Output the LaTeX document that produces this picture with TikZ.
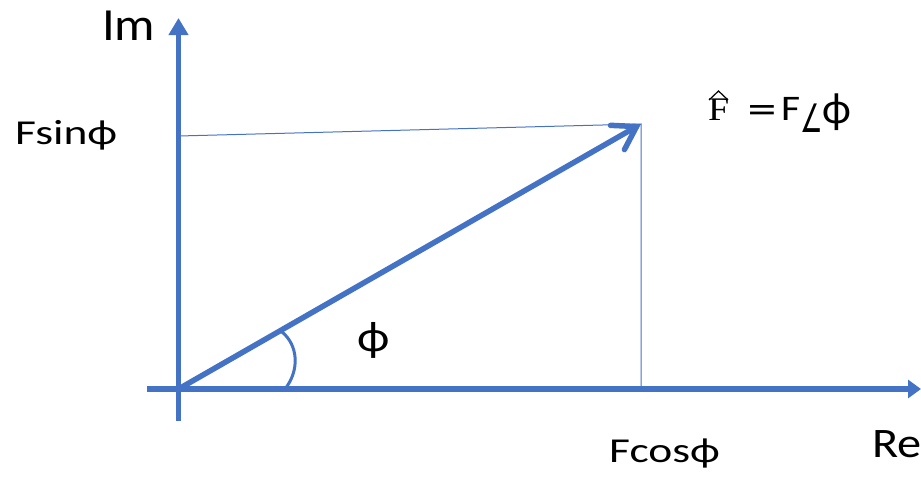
\documentclass[tikz,border=0pt]{standalone}
\usepackage{fontspec}
\setmainfont{Carlito}
\newfontfamily\dejavu{DejaVu Sans}
\newfontfamily\serifF{Liberation Serif}
\usetikzlibrary{arrows.meta}
\definecolor{axisblue}{HTML}{4472C4}
\newcommand\wtext[2][1.15]{\scalebox{#1}[1]{#2}}
\begin{document}
\begin{tikzpicture}[x=1pt,y=-1pt,
  axis/.style={draw=axisblue,line width=5.5pt},
  thinline/.style={draw=axisblue,line width=1pt},
  lbl/.style={anchor=base west,inner sep=0pt,text=black}]
\useasboundingbox (0,0) rectangle (921,477);
\coordinate (O) at (178.5,389);
\coordinate (ybot) at (178.5,421);
\coordinate (ytop) at (178.5,18);
\coordinate (xl) at (147,389);
\coordinate (xr) at (921,389);
\coordinate (P) at (641,124);
\coordinate (H) at (178.5,136);
\coordinate (V) at (641,389);
% thin projection lines
\draw[thinline] (H) -- (P) -- (V);
% axes
\draw[axis,-{Triangle[length=17pt,width=19pt]}] (ybot) -- (ytop);
\draw[axis,-{Triangle[length=13pt,width=18pt]}] (xl) -- (xr);
% vector
\draw[axis,line cap=round,-{Straight Barb[length=22pt,width=28pt,line cap=round]}] (O) -- (P);
% angle arc
\draw[draw=axisblue,line width=3pt] (285,389) .. controls (300,370) and (298,345) .. (282,332);
% labels
\node[lbl] (im) at (102,40) {\fontsize{46}{50}\selectfont\wtext[1.1]{Im}};
\node[lbl] (re) at (872,457) {\fontsize{42}{46}\selectfont\wtext{Re}};
\node[lbl] (fsin) at (15,144) {\fontsize{35}{40}\selectfont\wtext[1.3]{Fsinϕ}};
\node[lbl] (fcos) at (609,462) {\fontsize{35}{40}\selectfont\wtext[1.3]{Fcosϕ}};
\node[inner sep=0pt] (phi) at (373.5,340) {\fontsize{43}{50}\selectfont\wtext{ϕ}};
\node[lbl] (fhat) at (708,120) {\fontsize{33}{40}\selectfont\wtext{\serifF F}};
\draw[line width=1.2pt,line join=miter] (709,100) -- (718.5,91) -- (728,100);
\node[lbl] (eq) at (746,120) {\fontsize{33}{40}\selectfont\wtext{\dejavu =}};
\node[lbl] (fang) at (781,120) {\fontsize{36}{40}\selectfont\wtext{F}\raisebox{-12pt}{\scalebox{0.9}[1.4]{\dejavu\fontsize{28}{30}\selectfont ∠}}\raisebox{-3pt}{\fontsize{44}{48}\selectfont ϕ}};
\end{tikzpicture}
\end{document}
